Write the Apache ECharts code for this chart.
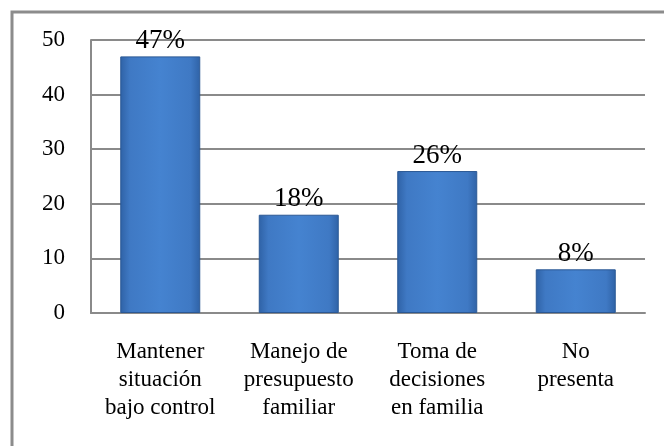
<!DOCTYPE html>
<html>
<head>
<meta charset="utf-8">
<script src="https://cdn.jsdelivr.net/npm/echarts@6/dist/echarts.min.js"></script>
<style>
  html, body { margin: 0; padding: 0; background: #fff; }
  #chart { width: 664px; height: 446px; }
</style>
</head>
<body>
<div id="chart"></div>
<script>
// data
var categories = ['Mantener\nsituación\nbajo control', 'Manejo de\npresupuesto\nfamiliar', 'Toma de\ndecisiones\nen familia', 'No\npresenta'];
var values = [47, 18, 26, 8];
var valueLabels = ['47%', '18%', '26%', '8%'];
var yTicks = [0, 10, 20, 30, 40, 50];

var serif = '"Liberation Serif", "Times New Roman", serif';

var barColor = new echarts.graphic.LinearGradient(0, 0, 1, 0, [
  { offset: 0, color: '#2f62a6' },
  { offset: 0.12, color: '#3f79c4' },
  { offset: 0.5, color: '#4583d0' },
  { offset: 0.88, color: '#3f79c4' },
  { offset: 1, color: '#2f62a6' }
]);

var chart = echarts.init(document.getElementById('chart'), null, { renderer: 'canvas' });

chart.setOption({
  animation: false,
  backgroundColor: '#fff',
  // outer frame of the chart area (only top/left are visible in the picture)
  graphic: [{
    type: 'rect',
    shape: { x: 12, y: 12, width: 700, height: 500 },
    style: { fill: 'none', stroke: '#8c8c8c', lineWidth: 3 },
    silent: true
  }],
  grid: { left: 91, top: 40, right: 19, bottom: 133, containLabel: false },
  xAxis: {
    type: 'category',
    data: categories,
    axisLine: { show: true, lineStyle: { color: '#8a8a8a', width: 2 } },
    axisTick: { show: false },
    axisLabel: {
      interval: 0,
      margin: 25,
      fontFamily: serif,
      fontSize: 23,
      lineHeight: 28,
      color: '#000'
    }
  },
  yAxis: {
    type: 'value',
    min: yTicks[0],
    max: yTicks[yTicks.length - 1],
    interval: 10,
    axisLine: { show: true, lineStyle: { color: '#8a8a8a', width: 2 } },
    axisTick: { show: false },
    axisLabel: {
      margin: 26,
      fontFamily: serif,
      fontSize: 23,
      color: '#000'
    },
    splitLine: { show: true, lineStyle: { color: '#8a8a8a', width: 2 } }
  },
  series: [{
    type: 'bar',
    data: values,
    barWidth: 80,
    itemStyle: { color: barColor, borderColor: '#2b5894', borderWidth: 1 },
    label: {
      show: true,
      position: 'top',
      distance: 2,
      fontFamily: serif,
      fontSize: 27,
      color: '#000',
      formatter: function (p) { return valueLabels[p.dataIndex]; }
    }
  }]
});
</script>
</body>
</html>
